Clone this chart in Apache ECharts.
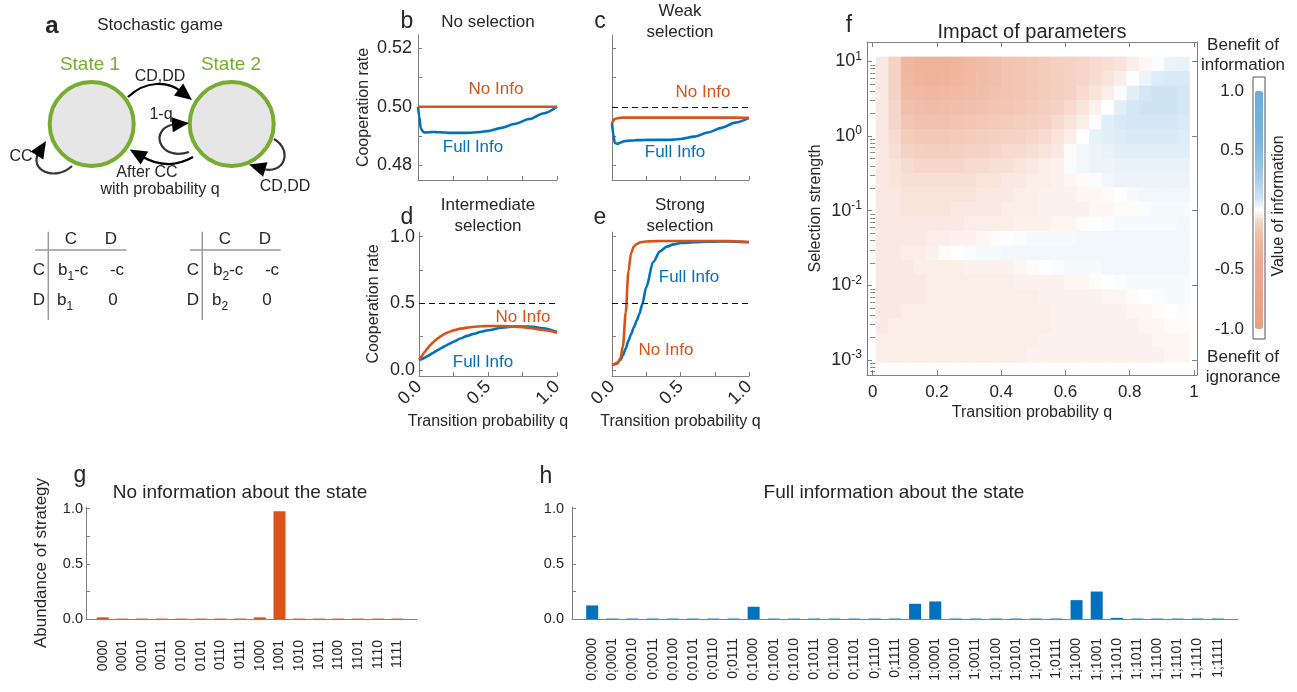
<!DOCTYPE html>
<html><head><meta charset="utf-8">
<script src="https://cdn.jsdelivr.net/npm/echarts@6/dist/echarts.min.js"></script>
<style>html,body{margin:0;padding:0;background:#fff}#c{width:1297px;height:692px}</style>
</head><body><div id="c"></div>
<script>
// ---------------- DATA ----------------
const qGrid = [0,0.01,0.02,0.04,0.06,0.08,0.1,0.12,0.14,0.16,0.18,0.2,0.22,0.25,0.3,0.35,0.4,0.45,0.5,0.6,0.7,0.8,0.9,1.0];
// b: no selection
const bNoInfo   = [0.5,0.5,0.5,0.5,0.5,0.5,0.5,0.5,0.5,0.5,0.5,0.5,0.5,0.5,0.5,0.5,0.5,0.5,0.5,0.5,0.5,0.5,0.5,0.5];
const bFullInfo = [0.5,0.4965,0.4925,0.4913,0.4912,0.4913,0.4914,0.4914,0.4913,0.4913,0.4912,0.4912,0.4911,0.4911,0.4911,0.4911,0.4912,0.4914,0.4917,0.4928,0.4942,0.4958,0.4977,0.5];
// c: weak selection
const cNoInfo   = [0.4944,0.4953,0.4958,0.4961,0.4962,0.4963,0.4963,0.4963,0.4963,0.4963,0.4963,0.4963,0.4963,0.4963,0.4963,0.4963,0.4963,0.4963,0.4963,0.4963,0.4963,0.4963,0.4963,0.4962];
const cFullInfo = [0.4944,0.4905,0.4877,0.4873,0.4877,0.4881,0.4883,0.4884,0.4885,0.4885,0.4886,0.4886,0.4886,0.4887,0.4887,0.4887,0.4887,0.4888,0.4890,0.4898,0.4912,0.4928,0.4946,0.4962];
// d: intermediate selection
const dNoInfo   = [0.08,0.09,0.105,0.135,0.16,0.185,0.205,0.225,0.24,0.255,0.268,0.278,0.287,0.297,0.31,0.318,0.324,0.328,0.33,0.33,0.325,0.315,0.3,0.28];
const dFullInfo = [0.075,0.078,0.082,0.092,0.103,0.115,0.128,0.14,0.152,0.163,0.175,0.186,0.197,0.212,0.236,0.256,0.272,0.287,0.298,0.317,0.327,0.326,0.313,0.285];
// e: strong selection
const eNoInfo   = [0.04,0.043,0.045,0.05,0.085,0.18,0.43,0.74,0.88,0.925,0.945,0.955,0.96,0.964,0.966,0.967,0.968,0.968,0.968,0.968,0.968,0.967,0.966,0.96];
const eFullInfo = [0.04,0.042,0.045,0.055,0.075,0.11,0.16,0.22,0.27,0.32,0.37,0.42,0.49,0.62,0.81,0.89,0.925,0.942,0.952,0.958,0.962,0.964,0.963,0.958];

// f: value of information; rows from top (selection 10^1.07) to bottom (10^-3.02), 25 columns q 0.01..0.985
const infoValue = [
 [-.05,-.10,-.27,-.31,-.32,-.31,-.28,-.25,-.22,-.19,-.17,-.16,-.15,-.13,-.11,-.10,-.09,-.08,-.07,-.06,-.04,-.02,.01,.04,.05],
 [-.05,-.10,-.26,-.29,-.30,-.29,-.27,-.24,-.21,-.19,-.17,-.16,-.15,-.13,-.12,-.10,-.09,-.08,-.06,-.04,.00,.04,.07,.08,.08],
 [-.05,-.10,-.23,-.25,-.26,-.25,-.24,-.22,-.20,-.18,-.17,-.16,-.15,-.13,-.12,-.10,-.08,-.06,-.04,.01,.06,.09,.10,.10,.09],
 [-.05,-.09,-.19,-.21,-.22,-.21,-.20,-.19,-.18,-.17,-.16,-.15,-.13,-.12,-.10,-.08,-.06,-.03,.00,.06,.09,.10,.10,.10,.09],
 [-.05,-.09,-.16,-.18,-.18,-.18,-.17,-.16,-.15,-.14,-.13,-.12,-.11,-.10,-.08,-.06,-.04,.01,.06,.08,.09,.09,.09,.09,.08],
 [-.05,-.08,-.13,-.15,-.15,-.15,-.14,-.13,-.12,-.11,-.10,-.10,-.09,-.08,-.06,-.04,.00,.05,.06,.07,.08,.08,.08,.08,.07],
 [-.05,-.07,-.10,-.11,-.12,-.12,-.11,-.10,-.10,-.09,-.08,-.08,-.07,-.06,-.05,-.01,.03,.04,.05,.06,.06,.06,.06,.06,.06],
 [-.05,-.06,-.08,-.09,-.09,-.09,-.09,-.08,-.08,-.07,-.07,-.06,-.05,-.04,-.03,.01,.03,.04,.04,.05,.05,.05,.05,.05,.05],
 [-.05,-.06,-.07,-.07,-.07,-.07,-.07,-.07,-.06,-.06,-.05,-.05,-.04,-.04,-.03,-.02,-.01,.01,.03,.04,.04,.04,.04,.04,.04],
 [-.05,-.05,-.06,-.06,-.06,-.06,-.06,-.06,-.05,-.05,-.05,-.04,-.04,-.03,-.03,-.03,-.02,-.02,-.01,.00,.02,.03,.03,.03,.03],
 [-.05,-.05,-.06,-.06,-.06,-.06,-.05,-.05,-.05,-.05,-.04,-.04,-.04,-.03,-.03,-.03,-.03,-.02,-.02,-.01,-.01,.01,.02,.02,.02],
 [-.05,-.05,-.05,-.05,-.05,-.05,-.05,-.04,-.04,-.04,-.04,-.03,-.03,-.03,-.02,-.02,-.01,.00,.01,.02,.02,.02,.02,.02,.03],
 [-.05,-.05,-.05,-.05,-.04,-.04,-.03,-.03,-.02,-.01,.00,.01,.02,.02,.02,.02,.03,.03,.03,.03,.03,.03,.03,.03,.03],
 [-.05,-.05,-.04,-.04,-.03,-.01,.00,.01,.02,.02,.03,.03,.03,.03,.03,.03,.03,.03,.03,.03,.03,.03,.03,.03,.03],
 [-.05,-.05,-.05,-.04,-.04,-.04,-.04,-.03,-.03,-.03,-.03,-.02,-.01,.00,.01,.02,.02,.02,.03,.03,.03,.03,.03,.03,.03],
 [-.05,-.05,-.05,-.05,-.04,-.04,-.04,-.04,-.04,-.04,-.04,-.03,-.03,-.03,-.03,-.02,-.02,-.01,.00,.01,.02,.02,.02,.02,.02],
 [-.05,-.05,-.05,-.05,-.04,-.04,-.04,-.04,-.04,-.04,-.04,-.04,-.04,-.03,-.03,-.03,-.03,-.03,-.02,-.02,-.01,.00,.01,.02,.02],
 [-.05,-.05,-.04,-.04,-.04,-.04,-.04,-.04,-.04,-.04,-.04,-.04,-.04,-.04,-.03,-.03,-.03,-.03,-.03,-.03,-.02,-.02,-.01,.00,.01],
 [-.05,-.04,-.04,-.04,-.04,-.04,-.04,-.04,-.04,-.04,-.04,-.04,-.04,-.04,-.03,-.03,-.03,-.03,-.03,-.03,-.03,-.02,-.02,-.01,-.01],
 [-.04,-.04,-.04,-.04,-.04,-.04,-.04,-.04,-.04,-.04,-.04,-.04,-.04,-.03,-.03,-.03,-.03,-.03,-.03,-.03,-.03,-.03,-.02,-.02,-.02],
 [-.04,-.04,-.04,-.04,-.04,-.04,-.04,-.04,-.04,-.04,-.04,-.04,-.03,-.03,-.03,-.03,-.03,-.03,-.03,-.03,-.03,-.03,-.03,-.02,-.02]
];
const colorbarTicks = [-1, -0.5, 0, 0.5, 1];

// g / h: strategy abundance
const gLabels = ['0000','0001','0010','0011','0100','0101','0110','0111','1000','1001','1010','1011','1100','1101','1110','1111'];
const gValues = [0.015,0.004,0.004,0.004,0.004,0.004,0.004,0.004,0.015,0.976,0.004,0.004,0.004,0.004,0.004,0.004];
const hLabels = ['0;0000','0;0001','0;0010','0;0011','0;0100','0;0101','0;0110','0;0111','0;1000','0;1001','0;1010','0;1011','0;1100','0;1101','0;1110','0;1111',
                 '1;0000','1;0001','1;0010','1;0011','1;0100','1;0101','1;0110','1;0111','1;1000','1;1001','1;1010','1;1011','1;1100','1;1101','1;1110','1;1111'];
const hValues = [0.123,0.004,0.004,0.004,0.004,0.004,0.004,0.004,0.111,0.004,0.004,0.004,0.004,0.004,0.004,0.004,
                 0.138,0.159,0.004,0.004,0.004,0.004,0.004,0.004,0.171,0.249,0.01,0.004,0.004,0.004,0.004,0.004];

// ---------------- STYLE ----------------
const FONT = '"Liberation Sans", Arial, Helvetica, sans-serif';
const AX = '#808080', TXT = '#262626';
const ORANGE = '#D95319', BLUE = '#0072BD', GREEN = '#77AC30';
const cmap = ['#e89f82','#e9a185','#e9a387','#eaa589','#eba78c','#eca98f','#edad94','#efb39b','#f1bea9','#f5d2c4','#ffffff',
              '#cfe4f3','#b3d5ed','#9fcae8','#8ec1e4','#82bae1','#7ab5df','#74b2de','#70b0dd','#6caedc','#69acdb'];

// heatmap grid geometry
const HQ = 0.039, Q0 = 0.01, HE = (1.065 + 3.025) / infoValue.length, E0 = 1.065;
const heatData = [];
infoValue.forEach((row, r) => row.forEach((v, c) => heatData.push([Q0 + HQ * (c + 0.5), E0 - HE * (r + 0.5), v])));

const minorLog = [];
for (let n = -4; n <= 1; n++) for (let k = 2; k <= 9; k++) { const e = n + Math.log10(k); if (e > -3.2 && e < 1.26) minorLog.push(e); }

function mkAxis(o) {
  const a = {
    type: 'value', gridIndex: o.grid, min: o.min, max: o.max, position: o.pos,
    axisLine: o.noLine ? {show: false} : {show: true, onZero: false, lineStyle: {color: AX, width: 1}},
    axisTick: o.ticks ? {show: true, inside: true, length: o.tickLen || 4, customValues: o.ticks, lineStyle: {color: AX, width: 1}} : {show: false},
    axisLabel: o.labels ? {show: true, customValues: o.labels, formatter: o.fmt, color: TXT, fontFamily: FONT,
      fontSize: o.fs || 18, margin: (o.margin == null ? 6 : o.margin), rotate: o.rotate || 0, rich: o.rich, lineHeight: o.lh} : {show: false},
    splitLine: {show: false}, splitArea: {show: false}, minorTick: {show: false}
  };
  if (o.z != null) a.z = o.z;
  if (o.name) {
    a.name = o.name; a.nameLocation = 'middle'; a.nameGap = o.nameGap;
    a.nameTextStyle = {color: TXT, fontFamily: FONT, fontSize: o.nameSize || 16};
  }
  return a;
}
const q4 = [0, 0.25, 0.5, 0.75, 1];
const fTicks = [0, 0.2, 0.4, 0.6, 0.8, 1];
const f1 = v => v.toFixed(1);

const xAxis = [
  mkAxis({grid: 0, pos: 'bottom', min: 0, max: 1, ticks: q4}),
  mkAxis({grid: 1, pos: 'bottom', min: 0, max: 1, ticks: q4}),
  mkAxis({grid: 2, pos: 'bottom', min: 0, max: 1, ticks: q4, labels: [0, 0.5, 1], fmt: f1, rotate: 45, margin: 8, name: 'Transition probability q', nameGap: 38}),
  mkAxis({grid: 3, pos: 'bottom', min: 0, max: 1, ticks: q4, labels: [0, 0.5, 1], fmt: f1, rotate: 45, margin: 8, name: 'Transition probability q', nameGap: 38}),
  mkAxis({grid: 4, pos: 'bottom', min: -0.0177, max: 1.0094, ticks: fTicks, tickLen: 5, labels: fTicks, fmt: v => (v === 0 || v === 1) ? String(v) : v.toFixed(1), fs: 17, margin: 9, name: 'Transition probability q', nameGap: 30, z: 5}),
  mkAxis({grid: 4, pos: 'top', min: -0.0177, max: 1.0094, ticks: fTicks, tickLen: 5, z: 5}),
  mkAxis({grid: 5, pos: 'bottom', min: 0, max: 1, noLine: true}),
  mkAxis({grid: 6, pos: 'bottom', min: 0.15, max: 17, labels: gLabels.map((l, i) => i + 1), fmt: v => gLabels[Math.round(v) - 1], rotate: 90, fs: 14, margin: 21}),
  mkAxis({grid: 7, pos: 'bottom', min: 0, max: 33, labels: hLabels.map((l, i) => i + 1), fmt: v => hLabels[Math.round(v) - 1], rotate: 90, fs: 14, margin: 19})
];
const supRich = {sup: {fontSize: 12, lineHeight: 12, verticalAlign: 'top', color: TXT, fontFamily: FONT}};
const yAxis = [
  mkAxis({grid: 0, pos: 'left', min: 0.475, max: 0.5245, ticks: [0.48, 0.49, 0.5, 0.51, 0.52], labels: [0.48, 0.5, 0.52], fmt: v => v.toFixed(2), margin: 6, name: 'Cooperation rate', nameGap: 46}),
  mkAxis({grid: 1, pos: 'left', min: 0.475, max: 0.5245, ticks: [0.48, 0.49, 0.5, 0.51, 0.52]}),
  mkAxis({grid: 2, pos: 'left', min: -0.045, max: 1.035, ticks: q4, labels: [0, 0.5, 1], fmt: f1, margin: 4, name: 'Cooperation rate', nameGap: 37}),
  mkAxis({grid: 3, pos: 'left', min: -0.045, max: 1.035, ticks: q4}),
  mkAxis({grid: 4, pos: 'left', min: -3.2, max: 1.26, ticks: [-3, -2, -1, 0, 1], tickLen: 5, labels: [-3, -2, -1, 0, 1], fmt: v => '10{sup|' + v + '}', rich: supRich, lh: 22, fs: 18, margin: 5, name: 'Selection strength', nameGap: 43, z: 5}),
  mkAxis({grid: 4, pos: 'right', min: -3.2, max: 1.26, ticks: [-3, -2, -1, 0, 1], tickLen: 5, z: 5}),
  mkAxis({grid: 4, pos: 'left', min: -3.2, max: 1.26, noLine: true, ticks: minorLog, tickLen: 2.5, z: 5}),
  mkAxis({grid: 4, pos: 'right', min: -3.2, max: 1.26, noLine: true, ticks: minorLog, tickLen: 2.5, z: 5}),
  mkAxis({grid: 5, pos: 'left', min: -1.084, max: 1.118, noLine: true, labels: colorbarTicks, fmt: f1, fs: 17, margin: 9}),
  mkAxis({grid: 6, pos: 'left', min: 0, max: 1.015, ticks: q4, labels: [0, 0.5, 1], fmt: f1, fs: 14.5, margin: 3, name: 'Abundance of strategy', nameGap: 36, nameSize: 17}),
  mkAxis({grid: 7, pos: 'left', min: 0, max: 1.015, ticks: q4, labels: [0, 0.5, 1], fmt: f1, fs: 14.5, margin: 8})
];

function line(idx, vals, color, extra) {
  return Object.assign({
    type: 'line', xAxisIndex: idx, yAxisIndex: idx, data: qGrid.map((q, i) => [q, vals[i]]),
    showSymbol: false, symbol: 'none', smooth: 0.3, smoothMonotone: 'x',
    lineStyle: {color: color, width: 2.6}, itemStyle: {color: color}, silent: true, z: 3
  }, extra || {});
}
const dash = {silent: true, symbol: 'none', label: {show: false}, data: [{yAxis: 0.5}], lineStyle: {type: [6, 4], color: '#111', width: 1}, animation: false};

const series = [
  line(0, bFullInfo, BLUE), line(0, bNoInfo, ORANGE),
  line(1, cFullInfo, BLUE), line(1, cNoInfo, ORANGE, {markLine: dash}),
  line(2, dFullInfo, BLUE), line(2, dNoInfo, ORANGE, {markLine: dash}),
  line(3, eFullInfo, BLUE), line(3, eNoInfo, ORANGE, {markLine: dash}),
  {
    type: 'custom', xAxisIndex: 4, yAxisIndex: 4, data: heatData, encode: {x: 0, y: 1}, silent: true, clip: true, z: 1,
    renderItem: function (params, api) {
      const q = api.value(0), e = api.value(1);
      const p0 = api.coord([q - HQ / 2, e + HE / 2]);
      const p1 = api.coord([q + HQ / 2, e - HE / 2]);
      return {type: 'rect', shape: {x: p0[0], y: p0[1], width: p1[0] - p0[0] + 0.6, height: p1[1] - p0[1] + 0.6}, style: {fill: api.visual('color')}};
    }
  },
  {type: 'bar', xAxisIndex: 7, yAxisIndex: 9, data: gValues.map((v, i) => [i + 1, v]), barWidth: 12, itemStyle: {color: ORANGE}, silent: true},
  {type: 'bar', xAxisIndex: 8, yAxisIndex: 10, data: hValues.map((v, i) => [i + 1, v]), barWidth: 12, itemStyle: {color: BLUE}, silent: true}
];

// ---------------- GRAPHIC (diagram, titles, annotations) ----------------
function T(x, y, text, o) {
  o = o || {};
  const st = {text: text, fill: o.color || TXT, fontSize: o.size || 16, fontFamily: FONT, fontWeight: o.weight || 'normal',
    align: o.align || 'center', verticalAlign: 'middle', textAlign: o.align || 'center', textVerticalAlign: 'middle'};
  if (o.lh) st.lineHeight = o.lh;
  if (o.rich) st.rich = o.rich;
  return {type: 'text', x: x, y: y, rotation: o.rot || 0, z: 20, silent: true, style: st};
}
function head(tx, ty, ang, len, hw) {
  const a = ang * Math.PI / 180, dx = Math.cos(a), dy = Math.sin(a);
  const bx = tx - len * dx, by = ty - len * dy;
  return {type: 'polygon', z: 19, silent: true, shape: {points: [[tx, ty], [bx - hw * dy, by + hw * dx], [bx + hw * dy, by - hw * dx]]}, style: {fill: '#000'}};
}
function curve(x1, y1, c1x, c1y, c2x, c2y, x2, y2, color) {
  return {type: 'bezierCurve', z: 18, silent: true, shape: {x1: x1, y1: y1, cpx1: c1x, cpy1: c1y, cpx2: c2x, cpy2: c2y, x2: x2, y2: y2}, style: {stroke: color, lineWidth: 2.2, fill: 'none'}};
}
function L(x1, y1, x2, y2) {
  return {type: 'line', z: 15, silent: true, shape: {x1: x1, y1: y1, x2: x2, y2: y2}, style: {stroke: '#9a9a9a', lineWidth: 1.5}};
}
const subRich = {s: {fontSize: 12, lineHeight: 12, verticalAlign: 'bottom', fill: TXT, color: TXT, fontFamily: FONT}};

const graphic = [
  // panel a
  T(52, 26, 'a', {size: 24, weight: 'bold'}),
  T(160, 25, 'Stochastic game', {size: 17}),
  {type: 'circle', z: 12, silent: true, shape: {cx: 91.7, cy: 124, r: 42}, style: {fill: '#e6e6e6', stroke: GREEN, lineWidth: 4}},
  {type: 'circle', z: 12, silent: true, shape: {cx: 231.7, cy: 124, r: 42}, style: {fill: '#e6e6e6', stroke: GREEN, lineWidth: 4}},
  T(90, 65, 'State 1', {size: 19, color: GREEN}),
  T(231, 65, 'State 2', {size: 19, color: GREEN}),
  curve(128, 97, 146, 80, 168, 81, 182, 92, '#000'), head(192, 100, 38, 17, 7.5),
  curve(189, 152, 158, 162, 148, 127, 176, 124, '#333'), head(189, 123, -6, 17, 7.5),
  curve(193, 157, 172, 169, 153, 163, 141, 156, '#000'), head(129.7, 149.5, 210, 17, 7.5),
  curve(72, 166, 55, 182, 28, 170, 39, 152, '#333'), head(46, 141, -58, 17, 7.5),
  curve(274, 139, 293, 150, 285, 176, 261, 168.5, '#333'), head(249, 164.5, 197, 17, 7.5),
  T(160, 77, 'CD,DD', {size: 16}),
  T(161, 115, '1-q', {size: 16}),
  T(21, 157, 'CC', {size: 16}),
  T(147, 173, 'After CC', {size: 16}),
  T(160, 190, 'with probability q', {size: 16}),
  T(285, 187, 'CD,DD', {size: 16}),
  // payoff tables
  L(48.3, 231.7, 48.3, 320), L(35, 250, 126.7, 250),
  T(71, 239, 'C', {size: 17}), T(111, 239, 'D', {size: 17}),
  T(39, 270, 'C', {size: 17}), T(58, 270, 'b{s|1}-c', {size: 17, align: 'left', rich: subRich, lh: 26}), T(117, 270, '-c', {size: 17}),
  T(39, 300, 'D', {size: 17}), T(57, 300, 'b{s|1}', {size: 17, align: 'left', rich: subRich, lh: 26}), T(113, 300, '0', {size: 17}),
  L(202.3, 231.7, 202.3, 320), L(190, 250, 280.7, 250),
  T(225, 239, 'C', {size: 17}), T(265, 239, 'D', {size: 17}),
  T(193, 270, 'C', {size: 17}), T(213, 270, 'b{s|2}-c', {size: 17, align: 'left', rich: subRich, lh: 26}), T(272, 270, '-c', {size: 17}),
  T(193, 300, 'D', {size: 17}), T(212, 300, 'b{s|2}', {size: 17, align: 'left', rich: subRich, lh: 26}), T(267, 300, '0', {size: 17}),
  // panel titles b-e
  T(407, 22, 'b', {size: 23}), T(488, 22, 'No selection', {size: 17}),
  T(600, 22, 'c', {size: 23}), T(680, 22, 'Weak\nselection', {size: 17, lh: 21}),
  T(407, 218, 'd', {size: 23}), T(488, 216, 'Intermediate\nselection', {size: 17, lh: 21}),
  T(600, 218, 'e', {size: 23}), T(680, 216, 'Strong\nselection', {size: 17, lh: 21}),
  // annotations
  T(496, 89, 'No Info', {size: 17, color: ORANGE}), T(473, 147, 'Full Info', {size: 17, color: BLUE}),
  T(703, 92, 'No Info', {size: 17, color: ORANGE}), T(675, 152, 'Full Info', {size: 17, color: BLUE}),
  T(523, 317, 'No Info', {size: 17, color: ORANGE}), T(483, 362, 'Full Info', {size: 17, color: BLUE}),
  T(666, 350, 'No Info', {size: 17, color: ORANGE}), T(689, 277, 'Full Info', {size: 17, color: BLUE}),
  // panel f
  T(849, 26, 'f', {size: 23}), T(1032, 32, 'Impact of parameters', {size: 20}),
  T(1243, 55, 'Benefit of\ninformation', {size: 17, lh: 20}),
  T(1243, 367, 'Benefit of\nignorance', {size: 17, lh: 20}),
  T(1279, 206, 'Value of information', {size: 16, rot: Math.PI / 2}),
  // panels g, h
  T(80, 476, 'g', {size: 23}), T(240, 493, 'No information about the state', {size: 19}),
  T(546, 477, 'h', {size: 23}), T(894, 493, 'Full information about the state', {size: 19})
];

const grid = [
  {left: 418, top: 35, width: 139, height: 145},
  {left: 612, top: 35, width: 137, height: 145},
  {left: 419, top: 232, width: 138, height: 144},
  {left: 612, top: 232, width: 137, height: 144},
  {left: 867, top: 42, width: 330, height: 333},
  {left: 1253, top: 77, width: 12, height: 262, show: true, borderColor: '#555', borderWidth: 1, backgroundColor: 'rgba(0,0,0,0)'},
  {left: 86, top: 507, width: 331, height: 112},
  {left: 572, top: 507, width: 666, height: 112}
].map(g => Object.assign({containLabel: false, outerBoundsMode: 'none'}, g));

const chart = echarts.init(document.getElementById('c'), null, {renderer: 'canvas', width: 1297, height: 692});
chart.setOption({
  animation: false,
  backgroundColor: '#ffffff',
  textStyle: {fontFamily: FONT},
  grid: grid,
  xAxis: xAxis,
  yAxis: yAxis,
  visualMap: [{
    type: 'continuous', min: -1, max: 1, dimension: 2, seriesIndex: 8, inRange: {color: cmap},
    show: true, calculable: false, hoverLink: false, orient: 'vertical',
    itemWidth: 8, itemHeight: 238, left: 1255, top: 91, padding: 0, borderWidth: 0
  }],
  series: series,
  graphic: graphic
});
</script></body></html>
